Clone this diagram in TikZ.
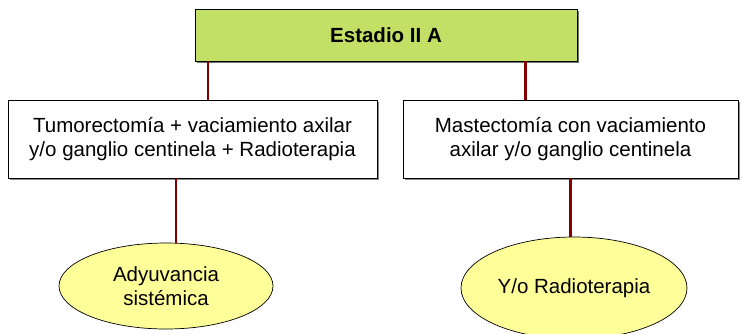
\documentclass[tikz,border=0pt]{standalone}
\usepackage{fontspec}
\setmainfont{Liberation Sans}
\usepackage{tikz}
\usetikzlibrary{calc}
\usetikzlibrary{shapes.geometric}
\usetikzlibrary{shadows}
\definecolor{estadiogreen}{RGB}{194,224,102}
\definecolor{ovalyellow}{RGB}{255,255,153}
\definecolor{linkred}{RGB}{130,0,0}
\tikzset{link/.style={draw=linkred,line width=2.2pt}}

\begin{document}
\begin{tikzpicture}[x=1pt,y=-1pt]
  % some styles
  \tikzset{
    stage/.style={
      rectangle,
      fill=estadiogreen,
      draw=black,
      line width=0.8pt,
      inner sep=0pt,
      minimum width=382pt,
      minimum height=52pt,
      font=\bfseries\fontsize{20.5}{24}\selectfont,
      drop shadow={shadow xshift=2pt,shadow yshift=-2pt,fill=black!55,opacity=1}
    }
  }
 \tikzset{treat/.style={rectangle,fill=white,draw=black,line width=0.7pt,inner sep=0pt,minimum height=78pt,align=center,font=\fontsize{20.5}{24}\selectfont,drop shadow={shadow xshift=2pt,shadow yshift=-2pt,fill=black!45,opacity=1}}}
  \tikzset{oval/.style={ellipse,fill=ovalyellow,draw=black,line width=0.7pt,inner sep=0pt,align=center,font=\fontsize{20.5}{24}\selectfont}}

\useasboundingbox (0,0) rectangle (741,333);

\node[stage] (estadio) at (386,35) {Estadio II A};
\node[treat, minimum width=369pt] (tumor) at (192.5,139) {Tumorectomía + vaciamiento axilar\\y/o ganglio centinela + Radioterapia};
\node[treat, minimum width=335pt] (masto) at (570.5,139) {Mastectomía con vaciamiento\\axilar y/o ganglio centinela};
\node[oval, minimum width=214pt, minimum height=86pt] (adyu) at (166,286) {Adyuvancia\\sistémica};
\node[oval, minimum width=226pt, minimum height=102pt] (radio) at (574,288) {Y/o Radioterapia};

% connectors
\draw[link] ([xshift=13pt]estadio.south west) -- ([xshift=13pt]estadio.south west |- tumor.north);
\draw[link] ([xshift=-52pt]estadio.south east) -- ([xshift=-52pt]estadio.south east |- masto.north);
\draw[link] ([xshift=-16.5pt]tumor.south) -- ([xshift=-16.5pt]tumor.south |- adyu.north);
\draw[link] (masto.south) -- (masto.south |- radio.north);

\end{tikzpicture}
\end{document}
